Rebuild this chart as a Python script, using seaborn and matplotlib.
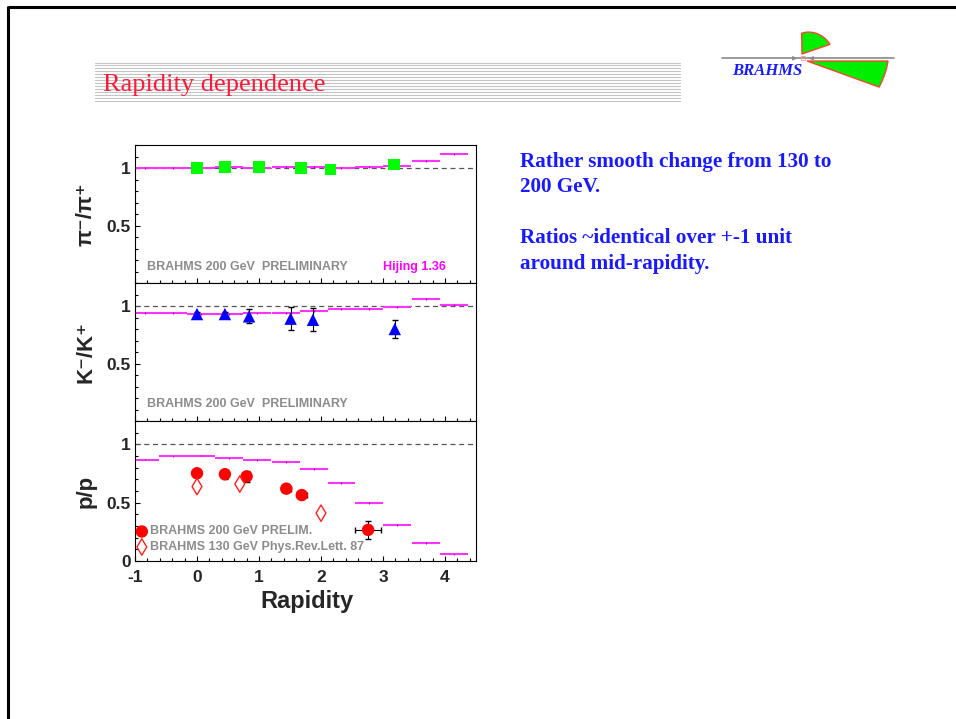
import numpy as np
import pandas as pd
import matplotlib
matplotlib.use("Agg")
import matplotlib.pyplot as plt
from matplotlib.ticker import MultipleLocator
import seaborn as sns

# ---------------- data ----------------
hijing_rap = [-0.84, -0.39, 0.07, 0.52, 0.97, 1.43, 1.88, 2.33, 2.78, 3.23, 3.69, 4.14]
hijing_halfwidth = 0.225
hijing_pi = [1.0, 1.0, 1.0, 1.005, 1.0, 1.01, 1.01, 1.0, 1.01, 1.02, 1.06, 1.12]
hijing_k = [0.942, 0.942, 0.931, 0.93, 0.935, 0.942, 0.957, 0.977, 0.977, 0.988, 1.063, 1.008]
hijing_p = [0.870, 0.896, 0.904, 0.879, 0.868, 0.848, 0.786, 0.668, 0.50, 0.306, 0.152, 0.056]

pi_rap = [0.0, 0.45, 1.0, 1.68, 2.15, 3.18]
pi_ratio = [1.0, 1.01, 1.01, 1.0, 0.985, 1.03]
pi_err = [0.01, 0.01, 0.015, 0.01, 0.01, 0.01]

k_rap = [0.0, 0.45, 0.84, 1.51, 1.87, 3.19]
k_ratio = [0.93, 0.93, 0.91, 0.89, 0.88, 0.80]
k_err = [0.02, 0.02, 0.06, 0.10, 0.10, 0.08]

p_rap = [0.0, 0.45, 0.80, 1.44, 1.69, 2.76]
p_ratio = [0.752, 0.744, 0.725, 0.62, 0.565, 0.267]
p_err = [0.02, 0.04, 0.05, 0.02, 0.02, 0.075]
p_xerr = [0.0, 0.0, 0.0, 0.07, 0.08, 0.21]

p130_rap = [0.0, 0.69, 2.0]
p130_ratio = [0.638, 0.66, 0.41]

x_ticks = [-1, 0, 1, 2, 3, 4]
x_tick_labels = ["-1", "0", "1", "2", "3", "4"]
y_labels = ["π⁻/π⁺", "K⁻/K⁺", "p/p"]
x_label = "Rapidity"
title = "Rapidity dependence"
bullet_lines = ["Rather smooth change from 130 to", "200 GeV.",
                "Ratios ~identical over +-1 unit", "around mid-rapidity."]

# ---------------- style ----------------
sns.set_theme(style="ticks")
plt.rcParams["font.family"] = ["Liberation Sans", "DejaVu Sans"]
plt.rcParams["xtick.direction"] = "in"
plt.rcParams["ytick.direction"] = "in"

W, H = 956, 719
fig = plt.figure(figsize=(W / 100, H / 100), dpi=100)
fig.patch.set_facecolor("white")

# overlay in pixel coordinates for slide decoration
ov = fig.add_axes([0, 0, 1, 1])
ov.set_xlim(0, W)
ov.set_ylim(H, 0)
ov.axis("off")
# slide border
ov.plot([8, W], [7, 7], color="black", lw=2.2, solid_capstyle="butt")
ov.plot([8, 8], [6, H], color="black", lw=2.2, solid_capstyle="butt")
# striped banner
for yy in np.linspace(62.5, 100.5, 14):
    ov.plot([95, 680], [yy, yy], color="#c4c4c4", lw=0.8)
ov.text(103, 91, title, color="#ff1a3c", fontsize=19,
        family=["Liberation Serif"], ha="left", va="baseline")
# logo
ov.plot([722, 894], [58.3, 58.3], color="#8a8a8a", lw=1.2)
ov.annotate("", xy=(800, 58.3), xytext=(790, 58.3),
            arrowprops=dict(arrowstyle="-|>", color="#8a8a8a", lw=0.8, mutation_scale=6))
ov.annotate("", xy=(806, 58.3), xytext=(816, 58.3),
            arrowprops=dict(arrowstyle="-|>", color="#8a8a8a", lw=0.8, mutation_scale=6))
ov.plot([803], [58.3], marker="s", ms=3, mfc="none", mec="#ff9999", mew=0.6)
ang = np.radians(np.linspace(19, 91, 20))
rad = np.linspace(29.6, 20.7, 20)
up_x = np.r_[802, 802 + rad * np.cos(ang)]
up_y = np.r_[54, 54 - rad * np.sin(ang)]
ov.fill(up_x, up_y, facecolor="#00ee00", edgecolor="#ff4433", lw=1)
ang2 = np.radians(np.linspace(0, -19.9, 20))
rad2 = np.linspace(81, 76.6, 20)
lo_x = np.r_[807, 807 + rad2 * np.cos(ang2)]
lo_y = np.r_[61, 61 - rad2 * np.sin(ang2)]
ov.fill(lo_x, lo_y, facecolor="#00ee00", edgecolor="#ff4433", lw=1)
ov.text(767, 71, "BRAHMS", color="#1a1aff", fontsize=12, fontweight="bold",
        fontstyle="italic", family=["Liberation Serif"], ha="center", va="center")
# right-hand bullet text
for txt, yb in zip(bullet_lines, [166.5, 191.5, 243, 268.5]):
    ov.text(520, yb, txt, color="#1a1aff", fontsize=15.2, fontweight="bold",
            family=["Liberation Serif"], ha="left", va="baseline")

# ---------------- panels ----------------
left, width = 135 / W, 341 / W
bounds = [(145, 283), (283, 421), (421, 561)]
axes = []
for top, bot in bounds:
    ax = fig.add_axes([left, 1 - bot / H, width, (bot - top) / H])
    axes.append(ax)

magenta = "#ff33ff"
grey_txt = "#8c8c8c"

def style_panel(ax, ylabel, show_x, yticks, ytlabels):
    ax.set_xlim(-1, 4.5)
    ax.set_ylim(0, 1.2)
    ax.set_facecolor("white")
    ax.axhline(1.0, color="#555555", lw=0.9, ls=(0, (4, 3)), zorder=1)
    ax.set_xticks(x_ticks)
    ax.xaxis.set_minor_locator(MultipleLocator(0.2))
    ax.set_yticks(yticks)
    ax.yaxis.set_minor_locator(MultipleLocator(0.1))
    ax.tick_params(which="major", length=3.8, width=0.8, color="black")
    ax.tick_params(which="minor", length=2.0, width=0.8, color="black")
    ax.tick_params(axis="y", labelsize=12.5, pad=3)
    ax.tick_params(axis="x", labelsize=12.5, pad=6.5)
    ax.set_yticklabels(ytlabels, fontweight="bold")
    if show_x:
        ax.set_xticklabels(x_tick_labels, fontweight="bold")
    else:
        ax.tick_params(axis="x", labelbottom=False)
    for sp in ax.spines.values():
        sp.set_visible(True)
        sp.set_color("black")
        sp.set_linewidth(0.8)
    ax.set_ylabel(ylabel, fontsize=16, fontweight="bold",
                  family=["Liberation Sans", "DejaVu Sans"])
    ax.yaxis.label.set_va("center")
    ax.yaxis.set_label_coords(-0.144, 0.5)
    ax.grid(False)

def hijing(ax, vals):
    ax.errorbar(hijing_rap, vals, xerr=hijing_halfwidth, fmt="none",
                ecolor=magenta, elinewidth=1.5, zorder=2)
    ax.errorbar(hijing_rap, vals, yerr=0.008, fmt="none",
                ecolor="#b000b0", elinewidth=0.8, zorder=2)

# panel 1: pi-/pi+
ax1 = axes[0]
hijing(ax1, hijing_pi)
ax1.errorbar(pi_rap, pi_ratio, yerr=pi_err, fmt="none", ecolor="black",
             elinewidth=0.8, capsize=2, zorder=3)
sns.scatterplot(x=pi_rap, y=pi_ratio, marker="s", color="#00ff00", s=68,
                edgecolor="none", ax=ax1, zorder=5, legend=False)
style_panel(ax1, y_labels[0], False, [0.5, 1], ["0.5", "1"])
ax1.text(-0.81, 0.139, "BRAHMS 200 GeV  PRELIMINARY", color=grey_txt,
         fontsize=9, fontweight="bold", ha="left", va="center")
ax1.text(3.0, 0.139, "Hijing 1.36", color="#ff00ff", fontsize=9,
         fontweight="bold", ha="left", va="center")

# panel 2: K-/K+
ax2 = axes[1]
hijing(ax2, hijing_k)
ax2.errorbar(k_rap, k_ratio, yerr=k_err, fmt="none", ecolor="black",
             elinewidth=0.8, capsize=2, zorder=3)
sns.scatterplot(x=k_rap, y=k_ratio, marker="^", color="#0000ff", s=80,
                edgecolor="none", ax=ax2, zorder=5, legend=False)
style_panel(ax2, y_labels[1], False, [0.5, 1], ["0.5", "1"])
ax2.text(-0.81, 0.147, "BRAHMS 200 GeV  PRELIMINARY", color=grey_txt,
         fontsize=9, fontweight="bold", ha="left", va="center")

# panel 3: pbar/p
ax3 = axes[2]
hijing(ax3, hijing_p)
ax3.errorbar(p_rap, p_ratio, yerr=p_err, xerr=p_xerr, fmt="none", ecolor="black",
             elinewidth=0.8, capsize=2, zorder=3)
sns.scatterplot(x=p_rap, y=p_ratio, marker="o", color="#ff0000", s=80,
                edgecolor="none", ax=ax3, zorder=5, legend=False)
sns.scatterplot(x=p130_rap, y=p130_ratio, marker="d", s=70, facecolor="none",
                edgecolor="#ff2020", linewidth=1.0, ax=ax3, zorder=5, legend=False)
style_panel(ax3, y_labels[2], True, [0, 0.5, 1], ["0", "0.5", "1"])
ax3.set_xlabel(x_label, fontsize=17, fontweight="bold")
ax3.xaxis.label.set_va("center")
ax3.xaxis.set_label_coords(0.503, -0.29)
# legend entries
ax3.scatter([-0.89], [0.253], marker="o", color="#ff0000", s=80, edgecolor="none", zorder=6)
ax3.scatter([-0.89], [0.12], marker="d", s=70, facecolor="none", edgecolor="#ff2020",
            linewidth=1.0, zorder=6)
ax3.text(-0.76, 0.253, "BRAHMS 200 GeV PRELIM.", color=grey_txt, fontsize=9,
         fontweight="bold", ha="left", va="center")
ax3.text(-0.76, 0.12, "BRAHMS 130 GeV Phys.Rev.Lett. 87", color=grey_txt, fontsize=9,
         fontweight="bold", ha="left", va="center")

fig.savefig("out.png", dpi=100, facecolor="white")
